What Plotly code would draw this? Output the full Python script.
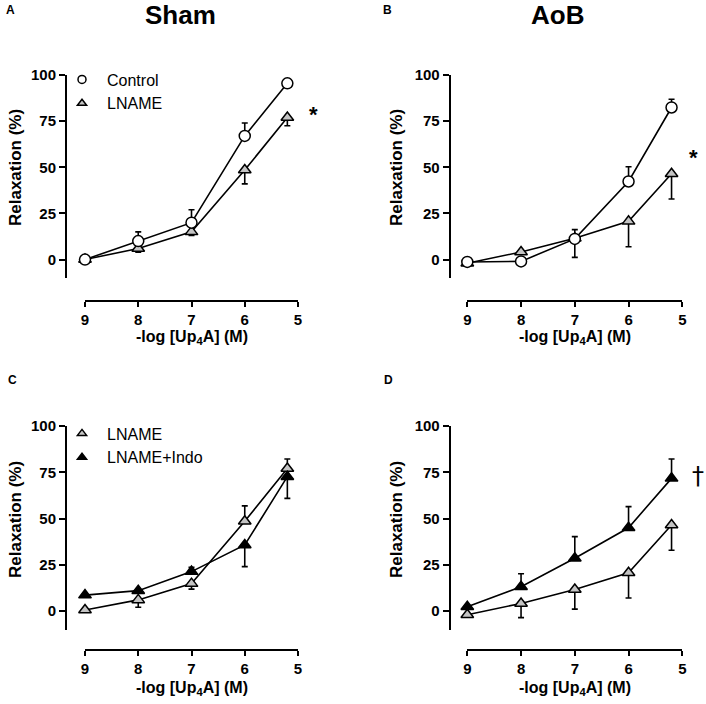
import plotly.graph_objects as go

# ---------------- data ----------------
log_conc = [9, 8, 7, 6, 5.2]
x_ticks = [9, 8, 7, 6, 5]
y_ticks = [0, 25, 50, 75, 100]

# Panel A (Sham)
a_control = [0, 10, 20, 67, 95.5]
a_control_up = [0, 5, 7, 7, 2.5]
a_lname = [0, 6, 15, 48.5, 77]
a_lname_down = [0, 2, 2, 7.5, 4.5]

# Panel B (AoB)
b_control = [-1.3, -1, 11.2, 42.3, 82.4]
b_control_up = [0, 0, 5, 8, 4.5]
b_lname = [-2, 4.1, 11.5, 20.7, 46.5]
b_lname_down = [0, 0, 10.3, 13.8, 13.7]

# Panel C (Sham)
c_lname = [0.5, 6, 14.8, 48.5, 77]
c_lname_up = [0, 0, 0, 8.3, 5.2]
c_lname_down = [0, 4, 3, 0, 0]
c_indo = [8.6, 11, 21.3, 35.7, 72.6]
c_indo_up = [0, 0, 2.3, 0, 0]
c_indo_down = [0, 0, 0, 11.7, 11.7]

# Panel D (AoB)
d_lname = [-2, 4.1, 11.6, 20.7, 46.5]
d_lname_down = [0, 7.7, 10.6, 13.7, 13.7]
d_indo = [2.3, 13.1, 28.5, 45, 71.7]
d_indo_up = [0, 7, 11.7, 11.4, 10.5]

W, H = 706, 704
FONT = "Liberation Sans, Arial, sans-serif"
GRAY = "#c4c4c4"


def fx(px):
    return px / W


def fy(py):
    return 1 - py / H


fig = go.Figure()

zeros = [0] * 5


def add_series(x, y, up, down, ax, symbol, fill, name):
    fig.add_trace(go.Scatter(
        x=x, y=y, mode="lines+markers", name=name, showlegend=False,
        xaxis="x" + ax, yaxis="y" + ax, cliponaxis=False,
        line=dict(color="black", width=1.6),
        marker=dict(symbol=symbol, size=11, color=fill,
                    line=dict(color="black", width=1.5)),
        error_y=dict(type="data", symmetric=False, array=up, arrayminus=down,
                     color="black", thickness=1.6, width=3),
    ))


# A
add_series(log_conc, a_lname, zeros, a_lname_down, "", "triangle-up", GRAY, "LNAME")
add_series(log_conc, a_control, a_control_up, zeros, "", "circle", "white", "Control")
# B
add_series(log_conc, b_lname, zeros, b_lname_down, "2", "triangle-up", GRAY, "LNAME")
add_series(log_conc, b_control, b_control_up, zeros, "2", "circle", "white", "Control")
# C
add_series(log_conc, c_lname, c_lname_up, c_lname_down, "3", "triangle-up", GRAY, "LNAME")
add_series(log_conc, c_indo, c_indo_up, c_indo_down, "3", "triangle-up", "black", "LNAME+Indo")
# D
add_series(log_conc, d_lname, zeros, d_lname_down, "4", "triangle-up", GRAY, "LNAME")
add_series(log_conc, d_indo, d_indo_up, zeros, "4", "triangle-up", "black", "LNAME+Indo")


# legend-only traces
def add_legend_item(name, symbol, fill, legend):
    fig.add_trace(go.Scatter(
        x=[None], y=[None], mode="markers", name=name, legend=legend,
        marker=dict(symbol=symbol, size=8, color=fill,
                    line=dict(color="black", width=1.5)),
    ))


add_legend_item("Control", "circle", "white", "legend")
add_legend_item("LNAME", "triangle-up", GRAY, "legend")
add_legend_item("LNAME", "triangle-up", GRAY, "legend2")
add_legend_item("LNAME+Indo", "triangle-up", "black", "legend2")

tickfont = dict(family=FONT, size=15, color="black", weight="bold")

common_x = dict(range=[9, 5], tickvals=x_ticks, showgrid=False, zeroline=False,
                showline=True, linecolor="black", linewidth=2, ticks="outside",
                ticklen=5, tickwidth=2, tickcolor="black", tickfont=tickfont,
                anchor="free", fixedrange=True, automargin=False)
common_y = dict(range=[-10, 100], tickvals=y_ticks, showgrid=False, zeroline=False,
                showline=True, linecolor="black", linewidth=2, ticks="outside",
                ticklen=6, tickwidth=2, tickcolor="black", tickfont=tickfont,
                anchor="free", fixedrange=True, automargin=False)

left_x = [fx(85), fx(298)]
right_x = [fx(467.3), fx(682.3)]
top_y = [fy(278), fy(75)]
bot_y = [fy(629.5), fy(426)]

legend_common = dict(xanchor="left", yanchor="top", bgcolor="rgba(0,0,0,0)",
                     tracegroupgap=0, borderwidth=0, itemwidth=40,
                     font=dict(family=FONT, size=16, color="black"))

fig.update_layout(
    template="none",
    width=W, height=H, margin=dict(l=0, r=0, t=0, b=0, pad=0, autoexpand=False),
    paper_bgcolor="white", plot_bgcolor="white",
    font=dict(family=FONT, color="black"),
    xaxis=dict(common_x, domain=left_x, position=fy(301)),
    yaxis=dict(common_y, domain=top_y, position=fx(66)),
    xaxis2=dict(common_x, domain=right_x, position=fy(301)),
    yaxis2=dict(common_y, domain=top_y, position=fx(449.7)),
    xaxis3=dict(common_x, domain=left_x, position=fy(650)),
    yaxis3=dict(common_y, domain=bot_y, position=fx(66)),
    xaxis4=dict(common_x, domain=right_x, position=fy(650)),
    yaxis4=dict(common_y, domain=bot_y, position=fx(449.7)),
    legend=dict(legend_common, x=fx(57), y=fy(62.5)),
    legend2=dict(legend_common, x=fx(57), y=fy(416.5)),
)

ann = []


def text(x, y, s, size, bold=True, angle=0, family=FONT):
    ann.append(dict(x=fx(x), y=fy(y), xref="paper", yref="paper", text=s,
                    showarrow=False, textangle=angle, xanchor="center", yanchor="middle",
                    font=dict(family=family, size=size, color="black",
                              weight="bold" if bold else "normal")))


# panel letters
text(10, 10, "A", 12)
text(387, 10, "B", 12)
text(12, 380, "C", 12)
text(388, 380, "D", 12)
# titles
text(181, 15, "Sham", 26)
text(557, 15, "AoB", 26)
# y titles
for xx, yy in [(15, 168), (396, 168), (15, 520), (396, 520)]:
    text(xx, yy, "Relaxation (%)", 17, angle=-90)
# x titles
for xx, yy in [(192, 337), (575, 337), (192, 688), (575, 688)]:
    text(xx, yy, "-log [Up<sub>4</sub>A] (M)", 16)
# significance marks
text(313, 115, "*", 22)
text(693, 157, "*", 22)
text(698, 476, "†", 24, bold=False, family="DejaVu Sans, Liberation Sans")

fig.update_layout(annotations=ann)
fig.write_html("out.html", config={"displayModeBar": False},
               post_script="document.body.style.margin='0';")
